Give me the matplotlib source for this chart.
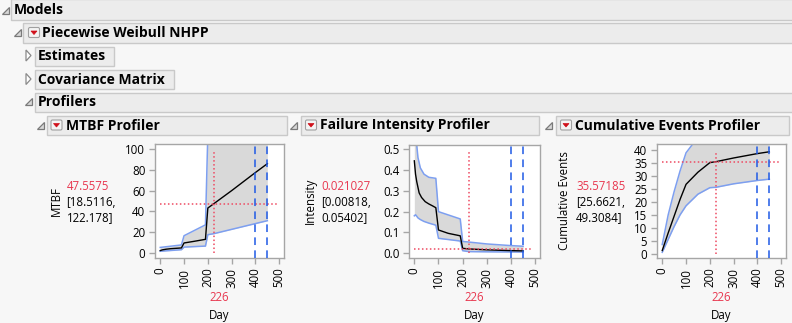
import matplotlib
matplotlib.use("Agg")
import matplotlib.pyplot as plt
from matplotlib.patches import Rectangle, Polygon, FancyBboxPatch

# ---------------- data ----------------
day_ticks = [0, 100, 200, 300, 400, 500]
day_current = 226
day_marks = [400, 450]

day_mtbf = [0, 10, 25, 45, 70, 89, 100, 140, 190, 200, 226, 300, 400, 450]
mtbf = [2.2, 2.9, 3.5, 4.0, 4.4, 4.7, 9.5, 11.0, 13.0, 43.2, 47.5575, 60.0, 77.5, 86.0]
day_mtbf_ci = [0, 89, 100, 190, 200, 226, 450]
mtbf_lower = [1.5, 3.0, 5.5, 6.5, 17.5, 18.5116, 31.0]
mtbf_upper = [5.2, 7.6, 16.5, 27.0, 115.0, 122.178, 165.0]
mtbf_ticks = [0, 20, 40, 60, 80, 100]

day_int = [0, 5, 10, 20, 30, 45, 60, 75, 89, 100, 140, 190, 200, 226, 300, 400, 450]
intensity = [0.444, 0.38, 0.344, 0.29, 0.268, 0.248, 0.237, 0.228, 0.219, 0.112,
             0.096, 0.084, 0.024, 0.021027, 0.0166, 0.0129, 0.0116]
day_int_ci = [0, 5, 10, 15, 25, 40, 60, 89, 100, 190, 200, 226, 300, 400, 450]
int_lower = [0.18, 0.185, 0.178, 0.17, 0.162, 0.153, 0.145, 0.135, 0.072, 0.059,
             0.0125, 0.00818, 0.0072, 0.0064, 0.006]
int_upper = [0.67, 0.58, 0.52, 0.46, 0.41, 0.38, 0.365, 0.36, 0.2, 0.165,
             0.057, 0.05402, 0.045, 0.037, 0.034]
int_ticks = [0.0, 0.1, 0.2, 0.3, 0.4, 0.5]

day_cum = [0, 25, 50, 75, 100, 150, 200, 226, 300, 400, 450]
cum_events = [1.2, 8.0, 14.5, 21.0, 26.8, 31.5, 35.2, 35.57185, 37.0, 38.7, 39.4]
cum_lower = [0.5, 5.5, 10.5, 15.0, 18.5, 23.0, 25.5, 25.6621, 27.0, 28.3, 28.8]
cum_upper = [3.5, 15.0, 24.0, 32.0, 39.0, 45.0, 48.5, 49.3084, 52.0, 54.5, 55.5]
cum_ticks = [0, 5, 10, 15, 20, 25, 30, 35, 40]

# ---------------- style ----------------
W, H = 792, 323
BG = '#f7f7f7'
HDR = '#ececec'
HDR_EDGE = '#c9c9c9'
RED = '#e8374f'
RED_LINE = '#ee4a62'
BAND = '#7d9ff0'
FILL = '#d9d9d9'
BLUE = '#1f5ae6'
FRAME = '#a6a6a6'
FONT = 'Open Sans'

fig = plt.figure(figsize=(W / 100, H / 100), dpi=100)
fig.patch.set_facecolor(BG)

ov = fig.add_axes([0, 0, 1, 1], zorder=0)
ov.set_xlim(0, W)
ov.set_ylim(H, 0)
ov.axis('off')


def header(x0, y0, x1, y1, label, tx, icon, ix, iy, button=None):
    ov.add_patch(Rectangle((x0, y0), x1 - x0, y1 - y0, facecolor=HDR,
                           edgecolor=HDR_EDGE, lw=1))
    ov.text(tx, (y0 + y1) / 2 + 0.5, label, fontsize=10, fontweight='bold',
            family=FONT, va='center', ha='left', color='black')
    if icon == 'open':
        pts = [(ix, iy + 7), (ix + 7, iy + 7), (ix + 7, iy)]
        ov.add_patch(Polygon(pts, closed=True, facecolor='#d8d8d8',
                             edgecolor='#7a7a7a', lw=0.9))
    else:
        pts = [(ix, iy), (ix, iy + 11), (ix + 5, iy + 5.5)]
        ov.add_patch(Polygon(pts, closed=True, facecolor='#ffffff',
                             edgecolor='#8a8a8a', lw=0.9))
    if button is not None:
        bx, by = button
        ov.add_patch(FancyBboxPatch((bx, by), 11, 10,
                                    boxstyle='round,pad=0,rounding_size=1.5',
                                    facecolor='#f4f4f4', edgecolor='#a0a0a0', lw=0.8))
        ov.add_patch(Polygon([(bx + 2.5, by + 3.5), (bx + 8.5, by + 3.5),
                              (bx + 5.5, by + 7)], closed=True,
                             facecolor='#d0101a', edgecolor='#d0101a', lw=0.5))


header(11, -1, W + 2, 19.5, 'Models', 13.5, 'open', 2, 7)
header(22.5, 22.5, W + 2, 42.5, 'Piecewise Weibull NHPP', 42.5, 'open', 14, 29, (28.5, 27.5))
header(34.5, 46.5, 113.5, 65.5, 'Estimates', 37.5, 'closed', 26, 50)
header(34.5, 69.5, 173.5, 88.5, 'Covariance Matrix', 37.5, 'closed', 26, 73.5)
header(34.5, 92.5, W + 2, 111.5, 'Profilers', 37.5, 'open', 24.5, 98)
header(46.5, 115.5, 286.5, 134.5, 'MTBF Profiler', 66.5, 'open', 37, 121.5, (51, 120))
header(300.5, 115.5, 538.5, 134.5, 'Failure Intensity Profiler', 320, 'open', 290, 121.5, (305.5, 120))
header(555.5, 115.5, 788.5, 134.5, 'Cumulative Events Profiler', 575, 'open', 545, 121.5, (560.5, 120))

XLIM = (-22, 520)

panels = [
    dict(box=(155, 144, 284, 258), ylim=(-5, 105), yt=mtbf_ticks, yfmt='{:g}',
         x=day_mtbf, y=mtbf, xc=day_mtbf_ci, lo=mtbf_lower, hi=mtbf_upper,
         yval=47.5575, ylabel='MTBF', ylx=56.5, vx=66.5,
         vals=('47.5575', '[18.5116,', '122.178]')),
    dict(box=(409, 145, 540, 258), ylim=(-0.0225, 0.52), yt=int_ticks, yfmt='{:.1f}',
         x=day_int, y=intensity, xc=day_int_ci, lo=int_lower, hi=int_upper,
         yval=0.021027, ylabel='Intensity', ylx=310, vx=321,
         vals=('0.021027', '[0.00818,', '0.05402]')),
    dict(box=(657, 143.5, 786, 258), ylim=(-1.7, 42.6), yt=cum_ticks, yfmt='{:g}',
         x=day_cum, y=cum_events, xc=day_cum, lo=cum_lower, hi=cum_upper,
         yval=35.57185, ylabel='Cumulative Events', ylx=565, vx=576,
         vals=('35.57185', '[25.6621,', '49.3084]')),
]

for p in panels:
    l, t, r, b = p['box']
    ax = fig.add_axes([l / W, 1 - b / H, (r - l) / W, (b - t) / H], zorder=2)
    ax.set_facecolor('white')
    ax.set_xlim(*XLIM)
    ax.set_ylim(*p['ylim'])
    ax.fill_between(p['xc'], p['lo'], p['hi'], color=FILL, lw=0, zorder=1)
    ax.plot(p['xc'], p['lo'], color=BAND, lw=1.1, zorder=2)
    ax.plot(p['xc'], p['hi'], color=BAND, lw=1.1, zorder=2)
    ax.plot(p['x'], p['y'], color='black', lw=1.0, zorder=3)
    y0, y1 = p['ylim']
    f0 = (0 - y0) / (y1 - y0)
    ax.axvline(day_current, ymin=f0, ymax=1 - 7 / (b - t), color=RED_LINE,
               lw=1.1, ls=(0, (1, 1.6)), zorder=4)
    xf0 = (0 - XLIM[0]) / (XLIM[1] - XLIM[0])
    xf1 = (492 - XLIM[0]) / (XLIM[1] - XLIM[0])
    ax.axhline(p['yval'], xmin=xf0, xmax=xf1, color=RED_LINE, lw=1.1,
               ls=(0, (1, 1.6)), zorder=4)
    for d in day_marks:
        ax.axvline(d, color=BLUE, lw=1.1, ls=(0, (5, 3.5)), zorder=5)
    ax.set_xticks(day_ticks)
    ax.set_xticklabels([str(v) for v in day_ticks], rotation=90, family=FONT, fontsize=8.3)
    ax.set_yticks(p['yt'])
    ax.set_yticklabels([p['yfmt'].format(v) for v in p['yt']], family=FONT, fontsize=8.3)
    ax.tick_params(direction='out', length=4.5, width=1, color=FRAME, pad=2.5,
                   labelcolor='black')
    for s in ax.spines.values():
        s.set_color(FRAME)
        s.set_linewidth(1)

    cx = (l + r) / 2
    ov.text(cx, 297.5, str(day_current), color=RED, fontsize=8.3, family=FONT,
            ha='center', va='center')
    ov.text(cx, 315, 'Day', color='black', fontsize=8.3, family=FONT,
            ha='center', va='center')
    ov.text(p['ylx'], 201, p['ylabel'], rotation=90, fontsize=8.3, family=FONT,
            ha='center', va='center', color='black')
    v0, v1, v2 = p['vals']
    ov.text(p['vx'], 186, v0, color=RED, fontsize=8.3, family=FONT, ha='left', va='center')
    ov.text(p['vx'], 202, v1, color='black', fontsize=8.3, family=FONT, ha='left', va='center')
    ov.text(p['vx'], 217.5, v2, color='black', fontsize=8.3, family=FONT, ha='left', va='center')

fig.savefig('out.png', dpi=100, facecolor=BG)
